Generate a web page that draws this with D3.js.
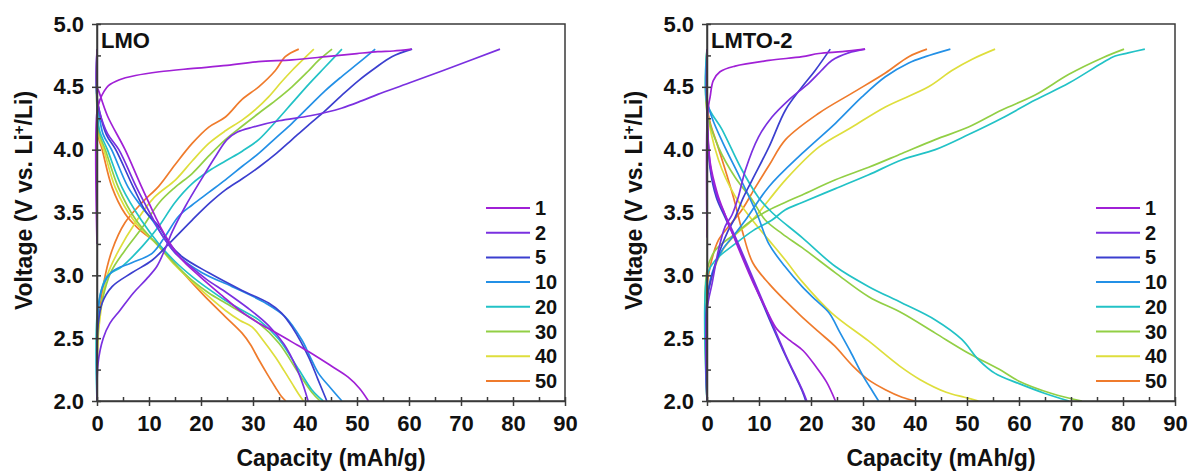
<!DOCTYPE html>
<html>
<head>
<meta charset="utf-8">
<script src="https://cdn.jsdelivr.net/npm/d3@7"></script>
<style>
  body { margin: 0; background: #fff; font-family: Arial, "Liberation Sans", Helvetica, sans-serif; }
  svg text { font-weight: bold; fill: #111; }
</style>
</head>
<body>
<svg id="chart" width="1189" height="475"></svg>
<script>
// cycles shown in the legend and their colours
const cycles = ["1", "2", "5", "10", "20", "30", "40", "50"]
const colors = ["#a020d6", "#7a30e0", "#3b3fcf", "#2390e6", "#22c2c6", "#92cf45", "#dede3c", "#ef7b2c"]
const xTicks = [0, 10, 20, 30, 40, 50, 60, 70, 80, 90]
const yTicks = [2.0, 2.5, 3.0, 3.5, 4.0, 4.5, 5.0]

// ---- LMO : charge curves [capacity, voltage]
const lmoCharge1 = [[0,3.25],[0,4.30],[0.6,4.40],[1.3,4.46],[2.2,4.51],[4.2,4.555],[7.4,4.59],[12,4.62],[18,4.645],[25,4.67],[31,4.70],[37.5,4.715],[44,4.74],[50,4.765],[54,4.78],[57,4.785],[60.5,4.80]]
const lmoCharge2 = [[0,2.0],[0.2,2.3],[1.2,2.5],[2.5,2.62],[4.4,2.72],[7,2.86],[9.5,2.97],[11.5,3.07],[13,3.2],[14.5,3.35],[17,3.55],[20,3.76],[23,3.96],[25,4.08],[27,4.14],[30,4.18],[35,4.23],[41,4.27],[47,4.33],[51,4.39],[54,4.44],[60,4.53],[68.5,4.66],[77.5,4.80]]
const lmoCharge5 = [[0,2.0],[0.2,2.6],[1,2.78],[2.9,2.91],[6.7,3.02],[10.6,3.12],[13.8,3.25],[18.3,3.44],[21.8,3.58],[24.7,3.68],[28,3.77],[31.1,3.86],[34.5,3.97],[37.5,4.08],[40.5,4.19],[43.9,4.31],[47,4.43],[50.3,4.55],[53.5,4.65],[56.7,4.74],[60.6,4.80]]
const lmoCharge10 = [[0,2.0],[0.2,2.7],[1,2.9],[2.9,3.03],[6.7,3.10],[10.6,3.175],[13.1,3.31],[15.7,3.47],[18.3,3.56],[21.5,3.66],[24.7,3.76],[28,3.87],[31.1,3.97],[34.3,4.09],[37.5,4.21],[40.7,4.34],[43.9,4.47],[47,4.58],[50.3,4.69],[53.5,4.80]]
const lmoCharge20 = [[0,2.0],[0.2,2.75],[1.9,2.99],[4.8,3.07],[8.7,3.23],[11.9,3.39],[15,3.58],[18.3,3.73],[21.5,3.83],[24.7,3.91],[28,3.99],[31.1,4.08],[34.3,4.22],[37.5,4.37],[40.7,4.52],[43.9,4.66],[47.1,4.80]]
const lmoCharge30 = [[0,2.0],[0.2,2.6],[1,2.80],[2.6,3.02],[5.4,3.20],[8.7,3.38],[12,3.58],[15,3.70],[18.3,3.81],[21.5,3.95],[24.7,4.08],[28,4.19],[31.1,4.29],[34.3,4.39],[37.5,4.50],[40.5,4.62],[42.6,4.71],[45.2,4.80]]
const lmoCharge40 = [[0,2.0],[0.2,2.5],[0.6,2.67],[1.9,2.99],[4.2,3.20],[7.4,3.42],[11,3.62],[15.1,3.76],[18.3,3.91],[21.5,4.05],[24.7,4.15],[27.9,4.235],[30.5,4.32],[33,4.42],[35.5,4.54],[37.5,4.63],[39.7,4.72],[41.7,4.80]]
const lmoCharge50 = [[0,2.0],[0.2,2.55],[1.3,2.94],[2.9,3.20],[5.4,3.42],[8.7,3.58],[11.9,3.71],[15,3.88],[18.3,4.05],[21.5,4.18],[24.7,4.26],[27.9,4.40],[31.1,4.50],[34.3,4.63],[36.2,4.74],[38.8,4.80]]

// ---- LMO : discharge curves
const lmoDischarge1 = [[0,4.8],[0,4.5],[0.3,4.47],[2,4.27],[5.4,4.0],[8.4,3.72],[11.2,3.47],[12.8,3.34],[16,3.14],[19.8,2.99],[24,2.84],[28.1,2.70],[31.5,2.61],[35.2,2.525],[38.5,2.445],[41.6,2.37],[45,2.28],[48.3,2.19],[50.5,2.10],[52.2,2.0]]
const lmoDischarge2 = [[0,4.8],[0,4.42],[0.5,4.3],[2,4.13],[4.2,4.0],[7.6,3.70],[10.5,3.47],[12.5,3.32],[15,3.18],[18,3.07],[21,2.97],[25,2.86],[29,2.74],[33,2.6],[36,2.45],[38.3,2.27],[39.7,2.12],[40.6,2.0]]
const lmoDischarge5 = [[0,4.8],[0,4.42],[0.5,4.3],[1.8,4.12],[3.6,4.0],[7,3.70],[9.5,3.5],[11.9,3.39],[14,3.25],[16.3,3.15],[21.5,3.02],[27.9,2.88],[33,2.78],[35.5,2.70],[37.5,2.59],[40.7,2.35],[42.5,2.17],[44.2,2.0]]
const lmoDischarge10 = [[0,4.8],[0,4.4],[0.5,4.25],[1.2,4.12],[2.8,4.0],[6,3.70],[8.5,3.55],[10.6,3.44],[15.1,3.175],[20.2,3.02],[26,2.91],[32.4,2.78],[36.2,2.67],[39.4,2.485],[41,2.35],[42.6,2.22],[45,2.1],[47.1,2.0]]
const lmoDischarge20 = [[0,4.8],[0,4.35],[0.5,4.15],[2,4.0],[4.8,3.70],[8.5,3.44],[11.9,3.25],[15,3.11],[18.3,2.99],[21.5,2.89],[24.7,2.80],[28,2.72],[31.1,2.645],[35,2.49],[38.8,2.25],[41.3,2.09],[43.5,2.0]]
const lmoDischarge30 = [[0,4.8],[0,4.33],[0.5,4.12],[1.6,4.0],[4.1,3.70],[7.5,3.44],[11.9,3.23],[15,3.09],[18.3,2.96],[21.5,2.86],[24.7,2.78],[28,2.70],[31.1,2.62],[35,2.46],[38.8,2.22],[41.3,2.07],[42.9,2.0]]
const lmoDischarge40 = [[0,4.8],[0,4.3],[0.4,4.1],[1.3,4.0],[3.5,3.70],[7,3.44],[11.9,3.23],[15,3.08],[18.3,2.95],[21.5,2.83],[24.7,2.72],[27.5,2.64],[29.8,2.59],[32,2.48],[34.3,2.35],[36,2.24],[37.5,2.14],[38.7,2.06],[39.7,2.0]]
const lmoDischarge50 = [[0,4.8],[0,4.34],[0.3,4.1],[1,4.0],[2.9,3.70],[5.4,3.49],[8,3.37],[11.9,3.24],[15,3.09],[18.3,2.94],[21.5,2.80],[24.7,2.67],[27.9,2.54],[29.5,2.45],[31.1,2.33],[32.8,2.21],[34.3,2.11],[35.4,2.04],[36.3,2.0]]

// ---- LMTO-2 : charge curves
const lmtoCharge1 = [[0,3.3],[0,4.2],[0.3,4.35],[0.6,4.42],[1.2,4.55],[2.5,4.62],[5.4,4.665],[11.9,4.71],[18.3,4.74],[21.5,4.765],[26,4.78],[30.4,4.80]]
const lmtoCharge2 = [[0,2.0],[0,2.72],[1,2.94],[2.2,3.20],[3.5,3.39],[4.8,3.48],[6,3.62],[7.4,3.84],[9.9,4.10],[12.5,4.26],[15.7,4.395],[19.6,4.53],[22,4.63],[24,4.71],[27.2,4.77],[30.4,4.80]]
const lmtoCharge5 = [[0,2.0],[0,2.8],[1,3.0],[2.5,3.2],[4,3.35],[5.4,3.46],[7,3.62],[8.7,3.76],[11.9,4.02],[15.1,4.316],[18.3,4.50],[20.8,4.63],[23.7,4.80]]
const lmtoCharge10 = [[0,2.0],[0,2.8],[1,3.02],[2.9,3.20],[5.4,3.33],[7.4,3.44],[11.9,3.705],[18.3,3.97],[24.7,4.21],[29.8,4.42],[34.3,4.58],[38.8,4.69],[42,4.74],[46.8,4.80]]
const lmtoCharge20 = [[0,2.0],[0,2.99],[1.6,3.12],[5.4,3.25],[9,3.36],[12.5,3.44],[15,3.52],[18.3,3.58],[24.7,3.69],[31.1,3.80],[37.5,3.92],[43.9,4.00],[50.3,4.12],[56.7,4.25],[63.1,4.395],[69.6,4.53],[76,4.69],[78.5,4.745],[81,4.77],[84.2,4.80]]
const lmtoCharge30 = [[0,2.0],[0,3.04],[1.6,3.20],[5.4,3.33],[8.7,3.44],[11.9,3.52],[15,3.58],[18.3,3.64],[24.7,3.76],[31.1,3.86],[37.5,3.97],[43.9,4.08],[50.3,4.18],[56.7,4.316],[63.1,4.435],[69.6,4.60],[76,4.73],[80.2,4.80]]
const lmtoCharge40 = [[0,2.0],[0,2.8],[1,3.0],[3,3.2],[5.4,3.32],[8.7,3.44],[11.9,3.6],[15.1,3.76],[21.5,4.02],[27.9,4.18],[34.3,4.34],[42.6,4.50],[47.1,4.63],[51,4.72],[55.4,4.80]]
const lmtoCharge50 = [[0,2.0],[0,2.9],[0.6,3.07],[2.2,3.28],[4.2,3.39],[6.7,3.52],[9.3,3.70],[12,3.88],[15.1,4.08],[21.5,4.29],[27.9,4.45],[34.3,4.61],[38.8,4.74],[42.3,4.80]]

// ---- LMTO-2 : discharge curves
const lmtoDischarge1 = [[0,4.8],[0,4.35],[0.6,3.9],[2,3.65],[3.5,3.48],[6,3.22],[9,2.93],[11.5,2.72],[13.5,2.57],[16,2.48],[18.5,2.40],[21,2.27],[23,2.15],[24.7,2.0]]
const lmtoDischarge2 = [[0,4.8],[0,4.3],[0.6,3.88],[1.8,3.65],[3.5,3.48],[5.4,3.31],[8.7,2.99],[11.9,2.68],[15.1,2.37],[18.3,2.09],[19.2,2.0]]
const lmtoDischarge5 = [[0,4.8],[0,4.3],[0.6,3.85],[1.8,3.62],[3.5,3.46],[5.4,3.29],[8.7,2.97],[11.9,2.66],[15.1,2.36],[18.3,2.08],[19.0,2.0]]
const lmtoDischarge10 = [[0,4.8],[0,4.4],[1,4.25],[3.1,4.05],[6.3,3.78],[9.6,3.49],[11.9,3.25],[15,3.07],[18.3,2.91],[21,2.8],[23.5,2.7],[25.5,2.55],[27.5,2.4],[30,2.2],[31.8,2.08],[33,2.0]]
const lmtoDischarge20 = [[0,4.8],[0,4.37],[2.9,4.16],[6.7,3.84],[9.9,3.62],[12.5,3.50],[18.3,3.30],[24.7,3.07],[31.1,2.91],[37.5,2.78],[43.9,2.645],[49,2.49],[52.2,2.33],[55.4,2.22],[59.9,2.14],[65,2.06],[69.6,2.0]]
const lmtoDischarge30 = [[0,4.8],[0,4.30],[2.2,4.02],[5.4,3.78],[8.7,3.60],[11.2,3.44],[14.5,3.33],[18.3,3.22],[24.7,3.02],[31.1,2.83],[37.5,2.70],[43.9,2.54],[50.3,2.38],[56.7,2.24],[59.9,2.16],[66.3,2.06],[72.1,2.0]]
const lmtoDischarge40 = [[0,4.8],[0,4.33],[2.2,3.92],[5.4,3.63],[8.7,3.44],[11.9,3.28],[15.1,3.12],[18.3,2.95],[24,2.7],[31,2.48],[37,2.28],[41,2.17],[46,2.07],[49.5,2.03],[52.2,2.0]]
const lmtoDischarge50 = [[0,4.8],[0,4.35],[0.7,4.2],[1.9,4.05],[3.8,3.8],[5.1,3.62],[6.8,3.35],[8.8,3.1],[12,2.93],[15,2.8],[18,2.68],[21.5,2.55],[24.5,2.44],[28,2.28],[31,2.17],[34.3,2.09],[37.5,2.03],[40,2.0]]

const lmoCharge = [lmoCharge1, lmoCharge2, lmoCharge5, lmoCharge10, lmoCharge20, lmoCharge30, lmoCharge40, lmoCharge50]
const lmoDischarge = [lmoDischarge1, lmoDischarge2, lmoDischarge5, lmoDischarge10, lmoDischarge20, lmoDischarge30, lmoDischarge40, lmoDischarge50]
const lmtoCharge = [lmtoCharge1, lmtoCharge2, lmtoCharge5, lmtoCharge10, lmtoCharge20, lmtoCharge30, lmtoCharge40, lmtoCharge50]
const lmtoDischarge = [lmtoDischarge1, lmtoDischarge2, lmtoDischarge5, lmtoDischarge10, lmtoDischarge20, lmtoDischarge30, lmtoDischarge40, lmtoDischarge50]

////////////////////////////////////////////////////////////////

const svg = d3.select("#chart")

function drawPanel(left, label, charge, discharge) {
    let width = 468, height = 377, top = 24
    let x = d3.scaleLinear().domain([0, 90]).range([0, width])
    let y = d3.scaleLinear().domain([2, 5]).range([height, 0])
    let g = svg.append("g").attr("transform", `translate(${left},${top})`)

    // curves, drawn from last cycle to first so early cycles sit on top
    let line = d3.line()
        .x(d => x(d[0]))
        .y(d => y(d[1]))
        .curve(d3.curveCatmullRom.alpha(0.5))
    let curves = g.append("g")
    for (let i = cycles.length - 1; i >= 0; i--) {
        [charge[i], discharge[i]].forEach(pts => {
            curves.append("path")
                .attr("d", line(pts))
                .attr("fill", "none")
                .attr("stroke", colors[i])
                .attr("stroke-width", 1.7)
                .attr("stroke-linejoin", "round")
        })
    }

    // frame
    g.append("rect")
        .attr("width", width).attr("height", height)
        .attr("fill", "none").attr("stroke", "#3a3a3a").attr("stroke-width", 1.5)

    // minor + major ticks pointing inside
    let minorX = d3.range(0, 91, 5), minorY = d3.range(2, 5.01, 0.25)
    g.append("g").attr("transform", `translate(0,${height})`)
        .call(d3.axisBottom(x).tickValues(minorX).tickSize(-4).tickSizeOuter(0).tickFormat(""))
        .call(a => a.select(".domain").remove())
    g.append("g")
        .call(d3.axisLeft(y).tickValues(minorY).tickSize(-4).tickSizeOuter(0).tickFormat(""))
        .call(a => a.select(".domain").remove())

    // major ticks outside with labels
    let ax = g.append("g").attr("transform", `translate(0,${height})`)
        .call(d3.axisBottom(x).tickValues(xTicks).tickSize(5).tickSizeOuter(0).tickPadding(9))
    let ay = g.append("g")
        .call(d3.axisLeft(y).tickValues(yTicks).tickSize(5).tickSizeOuter(0).tickPadding(8).tickFormat(d3.format(".1f")))
    ;[ax, ay].forEach(a => {
        a.select(".domain").attr("stroke", "#3a3a3a").attr("stroke-width", 1.5)
        a.selectAll(".tick text").style("font-size", "22px").style("font-weight", "bold")
            .style("font-family", "Arial, 'Liberation Sans', sans-serif").attr("fill", "#111")
    })
    g.selectAll(".tick line").attr("stroke", "#3a3a3a").attr("stroke-width", 1.5)

    // panel label
    g.append("text").attr("x", 4).attr("y", 24).style("font-size", "22px").text(label)

    // axis titles
    g.append("text")
        .attr("x", width / 2).attr("y", 442)
        .attr("text-anchor", "middle").style("font-size", "23px")
        .text("Capacity (mAh/g)")
    let yt = g.append("text")
        .attr("transform", `translate(-65,${height / 2 - 12}) rotate(-90)`)
        .attr("text-anchor", "middle").style("font-size", "23px")
    yt.append("tspan").text("Voltage (V vs. Li")
    yt.append("tspan").attr("dy", -8).style("font-size", "15px").text("+")
    yt.append("tspan").attr("dy", 8).text("/Li)")

    // legend
    let lg = g.append("g").attr("transform", `translate(${width - 79},184)`)
    cycles.forEach((c, i) => {
        let row = lg.append("g").attr("transform", `translate(0,${i * 24.7})`)
        row.append("line").attr("x1", 0).attr("x2", 44)
            .attr("stroke", colors[i]).attr("stroke-width", 2)
        row.append("text").attr("x", 49).attr("y", 7).style("font-size", "20px").text(c)
    })
}

drawPanel(97, "LMO", lmoCharge, lmoDischarge)
drawPanel(707, "LMTO-2", lmtoCharge, lmtoDischarge)
</script>
</body>
</html>
